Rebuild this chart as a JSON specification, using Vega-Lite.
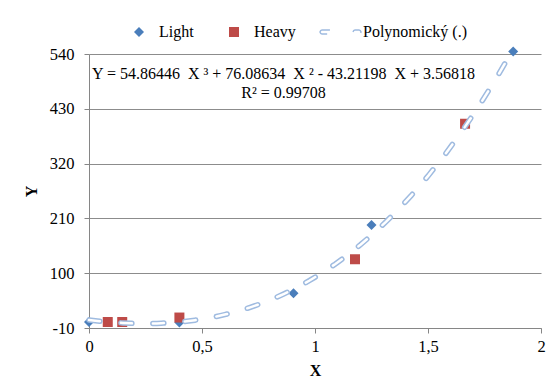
{
  "$schema": "https://vega.github.io/schema/vega-lite/v6.json",
  "width": 452,
  "height": 274,
  "autosize": {"type": "none"},
  "padding": {"left": 89, "top": 54, "right": 15, "bottom": 57},
  "background": "white",
  "config": {
    "view": {"stroke": null},
    "font": "Liberation Serif",
    "axis": {
      "domainColor": "#868686",
      "tickColor": "#868686",
      "gridColor": "#8c8c8c",
      "labelColor": "#000000",
      "titleColor": "#000000",
      "labelFont": "Liberation Serif",
      "titleFont": "Liberation Serif",
      "labelFontSize": 16.5,
      "titleFontSize": 16,
      "titleFontWeight": "bold",
      "tickSize": 5,
      "labelFlush": false
    },
    "legend": {
      "labelFont": "Liberation Serif",
      "labelFontSize": 16,
      "labelColor": "#000000",
      "title": null
    }
  },
  "datasets": {
    "points": [
      {"series": "Light", "x": 0, "y": 2},
      {"series": "Light", "x": 0.4, "y": 1},
      {"series": "Light", "x": 0.905, "y": 60},
      {"series": "Light", "x": 1.25, "y": 197},
      {"series": "Light", "x": 1.877, "y": 545},
      {"series": "Heavy", "x": 0.083, "y": 2},
      {"series": "Heavy", "x": 0.147, "y": 2},
      {"series": "Heavy", "x": 0.4, "y": 11},
      {"series": "Heavy", "x": 1.177, "y": 128},
      {"series": "Heavy", "x": 1.664, "y": 400}
    ]
  },
  "layer": [
    {
      "data": {"name": "points"},
      "mark": {"type": "point", "filled": true, "opacity": 1, "size": 100},
      "encoding": {
        "x": {
          "field": "x",
          "type": "quantitative",
          "scale": {"domain": [0, 2], "nice": false, "zero": false},
          "axis": {
            "title": "X",
            "values": [0, 0.5, 1, 1.5, 2],
            "labelExpr": "replace('' + datum.value, '.', ',')",
            "grid": false,
            "labelPadding": 5,
            "titlePadding": 8
          }
        },
        "y": {
          "field": "y",
          "type": "quantitative",
          "scale": {"domain": [-10, 540], "nice": false, "zero": false},
          "axis": {
            "title": "Y",
            "values": [-10, 100, 210, 320, 430, 540],
            "labelExpr": "'' + datum.value",
            "grid": true,
            "labelPadding": 10,
            "titlePadding": 10
          }
        },
        "color": {
          "field": "series",
          "type": "nominal",
          "scale": {"domain": ["Light", "Heavy"], "range": ["#4a7ebb", "#be4b48"]},
          "legend": {
            "orient": "none",
            "direction": "horizontal",
            "legendX": 42,
            "legendY": -30,
            "symbolSize": 100,
            "labelOffset": 12,
            "columnPadding": 32
          }
        },
        "shape": {
          "field": "series",
          "type": "nominal",
          "scale": {"domain": ["Light", "Heavy"], "range": ["diamond", "square"]},
          "legend": {
            "orient": "none",
            "direction": "horizontal",
            "legendX": 42,
            "legendY": -30,
            "symbolSize": 100,
            "labelOffset": 12,
            "columnPadding": 32
          }
        }
      }
    },
    {
      "data": {"name": "points"},
      "transform": [{"regression": "y", "on": "x", "method": "poly", "order": 3}],
      "mark": {"type": "line", "stroke": "#9fbbe0", "strokeWidth": 5.5, "strokeCap": "round"},
      "encoding": {
        "x": {"field": "x", "type": "quantitative"},
        "y": {"field": "y", "type": "quantitative"},
        "strokeDash": {
          "datum": "Polynomický (.)",
          "scale": {"range": [[11, 21]]},
          "legend": {
            "orient": "none",
            "legendX": 246,
            "legendY": -30,
            "symbolSize": 100,
            "labelOffset": 12,
            "symbolType": "M -4.6 0 L -4.45 -0.3 L -4.18 -0.42 L -1.42 -0.42 L -1.15 -0.3 L -1.0 0 L -1.15 0.3 L -1.42 0.42 L -4.18 0.42 L -4.45 0.3 Z M 2.0 0 L 2.15 -0.3 L 2.42 -0.42 L 3.18 -0.42 L 3.45 -0.3 L 3.6 0 L 3.45 0.3 L 3.18 0.42 L 2.42 0.42 L 2.15 0.3 Z",
            "symbolFillColor": "#ffffff",
            "symbolStrokeColor": "#9fbbe0",
            "symbolStrokeWidth": 1.5,
            "symbolDash": [],
            "encode": {
              "symbols": {
                "update": {
                  "fill": {"value": "#ffffff"},
                  "stroke": {"value": "#9fbbe0"},
                  "strokeWidth": {"value": 1.5},
                  "strokeDash": {"value": []},
                  "opacity": {"value": 1}
                }
              }
            }
          }
        }
      }
    },
    {
      "data": {"name": "points"},
      "transform": [{"regression": "y", "on": "x", "method": "poly", "order": 3}],
      "mark": {"type": "line", "stroke": "#ffffff", "strokeWidth": 2.5, "strokeDash": [11, 21], "strokeCap": "round"},
      "encoding": {
        "x": {"field": "x", "type": "quantitative"},
        "y": {"field": "y", "type": "quantitative"}
      }
    },
    {
      "data": {"values": [{"txt": "Y = 54.86446 \u00a0X ³ + 76.08634 \u00a0X ² - 43.21198 \u00a0X + 3.56818", "px": 0.8606, "py": 500}, {"txt": "R² = 0.99708", "px": 0.8606, "py": 462}]},
      "mark": {"type": "text", "align": "center", "baseline": "middle", "font": "Liberation Serif", "fontSize": 16, "fontWeight": "normal", "fill": "#000000"},
      "encoding": {
        "x": {"field": "px", "type": "quantitative"},
        "y": {"field": "py", "type": "quantitative"},
        "text": {"field": "txt"}
      }
    }
  ]
}
